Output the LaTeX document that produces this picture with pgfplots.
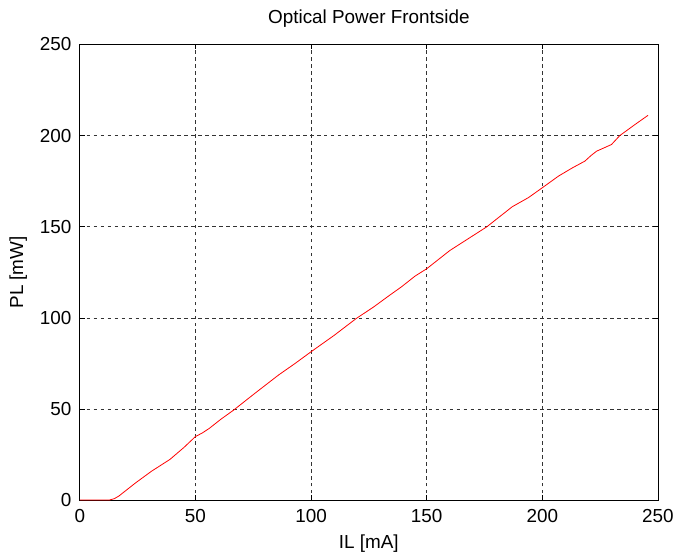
\documentclass[border=0pt]{standalone}
\usepackage{pgfplots}
\pgfplotsset{compat=1.18}
\usepackage{fontspec}
\setmainfont{Liberation Sans}
\begin{document}
\fontsize{19}{23}\selectfont
\begin{tikzpicture}
\begin{axis}[
    scale only axis,
    width=580bp, height=457.5bp,
    xmin=0, xmax=250,
    ymin=0, ymax=250,
    xtick={0,50,...,250},
    ytick={0,50,...,250},
    grid=major,
    grid style={black!80, line width=0.7bp, dash pattern=on 3.5bp off 3.5bp},
    tick align=inside,
    major tick length=5bp,
    tick style={black, line width=0.7bp},
    axis line style={black, line width=0.8bp},
    title={Optical Power Frontside},
    title style={yshift=5bp},
    xlabel={IL [mA]},
    ylabel={PL [mW]},
    xticklabel style={yshift=-2bp},
    yticklabel style={xshift=-2bp},
    /pgf/number format/assume math mode=true,
]
\addplot[red, line width=0.8bp] coordinates {
(0,0.3) (5,0.3) (13,0.3) (15,1) (17,2.5) (24,9.5) (31,16) (39,22.5) (45,29) (50,35)
(53,37) (56,39.5) (61,44.5) (66.5,49.5) (76,59) (86,68.8) (93,75) (100,81.5)
(110,90.5) (119.5,99.7) (127,106) (134,112.5) (139,117) (145,123) (150,127)
(160,137) (168,143.5) (176,150) (187,161) (194,166) (200,171.4) (207,177.8)
(213,182.3) (218.4,186) (221,189) (223.4,191.4) (229.9,195.1) (233.5,200)
(240,206) (245.7,211.1)
};
\end{axis}
\path (current axis.south west) ++(-80bp,-55bp) rectangle ++(680bp,557bp);
\end{tikzpicture}
\end{document}
